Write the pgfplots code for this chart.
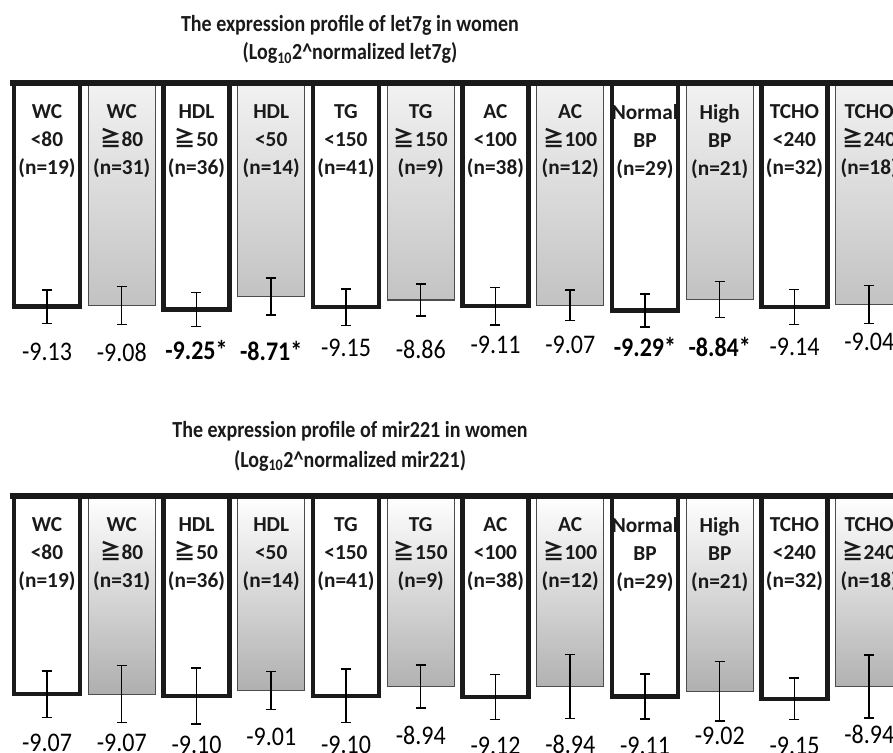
\documentclass[border=0pt]{standalone}
\usepackage{pgfplots}
\usepackage{pgfplotstable}
\pgfplotsset{compat=1.18}
\usepackage{fontspec}
\setmainfont{Carlito}
\newfontfamily\cjk{Noto Sans CJK TC}
\newcommand{\GE}{{\cjk ≧}}
\definecolor{ink}{HTML}{1A1A1A}
\definecolor{graybot}{HTML}{C2C2C2}
\definecolor{graytop}{HTML}{F2F2F2}

% let7g (top panel)
\pgfplotstableread{
x y err lab off
1 -9.08 0.77 -9.08 46.5
5 -8.86 0.65 -8.86 48.9
7 -9.07 0.63 -9.07 39.8
11 -9.04 0.77 -9.04 37.2
}\topgray
\pgfplotstableread{
x y err lab off
3 -8.71 0.75 -8.71* 54.3
9 -8.84 0.73 -8.84* 47.1
}\topgraybold
% mir221 (bottom panel)
\pgfplotstableread{
x y err lab off
1 -9.07 0.48 -9.07 48.9
3 -9.01 0.32 -9.01 46.1
5 -8.94 0.36 -8.94 49.3
7 -8.94 0.54 -8.94 58.3
9 -9.02 0.50 -9.02 44.5
11 -8.94 0.53 -8.94 47.6
}\botgray

\pgfplotsset{
  panel/.style={
    scale only axis, anchor=north west, axis on top,
    width=672.75pt, xmin=-0.5, xmax=11.5,
    axis line style={draw=none}, ytick=\empty,
    xtick={0,...,11}, xticklabel pos=upper, major tick length=0pt,
    xtick style={draw=none},
    xticklabels={{WC\\<80\\(n=19)},{WC\\\GE80\\(n=31)},{HDL\\\GE50\\(n=36)},{HDL\\<50\\(n=14)},
      {TG\\<150\\(n=41)},{TG\\\GE150\\(n=9)},{AC\\<100\\(n=38)},{AC\\\GE100\\(n=12)},
      {Normal\\BP\\(n=29)},{High\\BP\\(n=21)},{TCHO\\<240\\(n=32)},{TCHO\\\GE240\\(n=18)}},
    xticklabel style={anchor=north, yshift=-12.5pt, align=center,
      font=\fontsize{16}{21}\selectfont\bfseries, text=ink},
    point meta=explicit symbolic,
  },
  errs/.style={
    error bars/y dir=both, error bars/y explicit,
    error bars/error bar style={line width=1.1pt, draw=black},
    error bars/error mark options={rotate=90, mark size=3.75pt, line width=1.1pt, draw=black},
  },
  errplot/.style={errs, draw=none, mark=none, forget plot},
  whitebar/.style={ybar, bar shift=0pt, bar width=49.4pt, draw=ink, line width=3.4pt, fill=white, errs},
  graybar/.style={ybar, bar shift=0pt, bar width=50.3pt, draw=black!70, line width=0.9pt},
  vals/.style={nodes near coords={\scalebox{1}[1.12]{\pgfplotspointmeta}},
    visualization depends on={\thisrow{off} \as \off},
    every node near coord/.append style={anchor=center, yshift=-\off*0.75pt,
      font=\fontsize{18}{20}\selectfont#1, text=black}},
  vals/.default={},
}
\newcommand{\ttl}[1]{\scalebox{1}[1.15]{#1}}

\begin{document}
\begin{tikzpicture}
\path[use as bounding box] (0,0) rectangle (669.75pt,-564.75pt);
\clip (0,0) rectangle (669.75pt,-564.75pt);

% titles
\tikzset{ttlstyle/.style={anchor=base, inner sep=0pt, font=\fontsize{15}{20}\selectfont\bfseries, text=ink}}
\node[ttlstyle] at (262.5pt,-23.8pt) {\ttl{The expression profile of let7g in women}};
\node[ttlstyle] at (262.5pt,-45pt) {\ttl{(Log\textsubscript{10}2\textasciicircum normalized let7g)}};
\node[ttlstyle] at (262.5pt,-327.75pt) {\ttl{The expression profile of mir221 in women}};
\node[ttlstyle] at (262.5pt,-350.25pt) {\ttl{(Log\textsubscript{10}2\textasciicircum normalized mir221)}};

% ---------- top panel: let7g ----------
\begin{axis}[panel, name=top, at={(7.2pt,-62.25pt)}, height=220.5pt, ymin=-12, ymax=0]
\addplot[whitebar, vals] table[x=x, y=y, y error=err, meta=lab] {
x y err lab off
0 -9.13 0.69 -9.13 45.3
4 -9.15 0.75 -9.15 40.5
6 -9.11 0.77 -9.11 38.8
10 -9.14 0.71 -9.14 39.8
};
\addplot[whitebar, vals=\bfseries] table[x=x, y=y, y error=err, meta=lab] {
x y err lab off
2 -9.25 0.69 -9.25* 40.4
8 -9.29 0.67 -9.29* 36.1
};
\addplot[graybar, top color=graytop, bottom color=graybot, vals] table[x=x, y=y, meta=lab] {\topgray};
\addplot[graybar, top color=graytop, bottom color=graybot, vals=\bfseries] table[x=x, y=y, meta=lab] {\topgraybold};
\addplot[errplot] table[x=x, y=y, y error=err] {\topgray};
\addplot[errplot] table[x=x, y=y, y error=err] {\topgraybold};
\end{axis}
\draw[ink, line width=3.9pt] (top.north west) -- (top.north east);

% ---------- bottom panel: mir221 ----------
\begin{axis}[panel, name=bot, at={(7.2pt,-372pt)}, height=190.1pt, ymin=-10, ymax=-5.74]
\addplot[whitebar, vals] table[x=x, y=y, y error=err, meta=lab] {
x y err lab off
0 -9.07 0.39 -9.07 48.9
2 -9.10 0.47 -9.10 49.1
4 -9.10 0.45 -9.10 49.1
6 -9.12 0.38 -9.12 48.6
8 -9.11 0.38 -9.11 49.5
10 -9.15 0.35 -9.15 46.8
};
\addplot[graybar, top color=white, middle color=white, bottom color=graybot!90!black, vals] table[x=x, y=y, meta=lab] {\botgray};
\addplot[errplot] table[x=x, y=y, y error=err] {\botgray};
\end{axis}
\draw[ink, line width=3.9pt] (bot.north west) -- (bot.north east);
\end{tikzpicture}
\end{document}
